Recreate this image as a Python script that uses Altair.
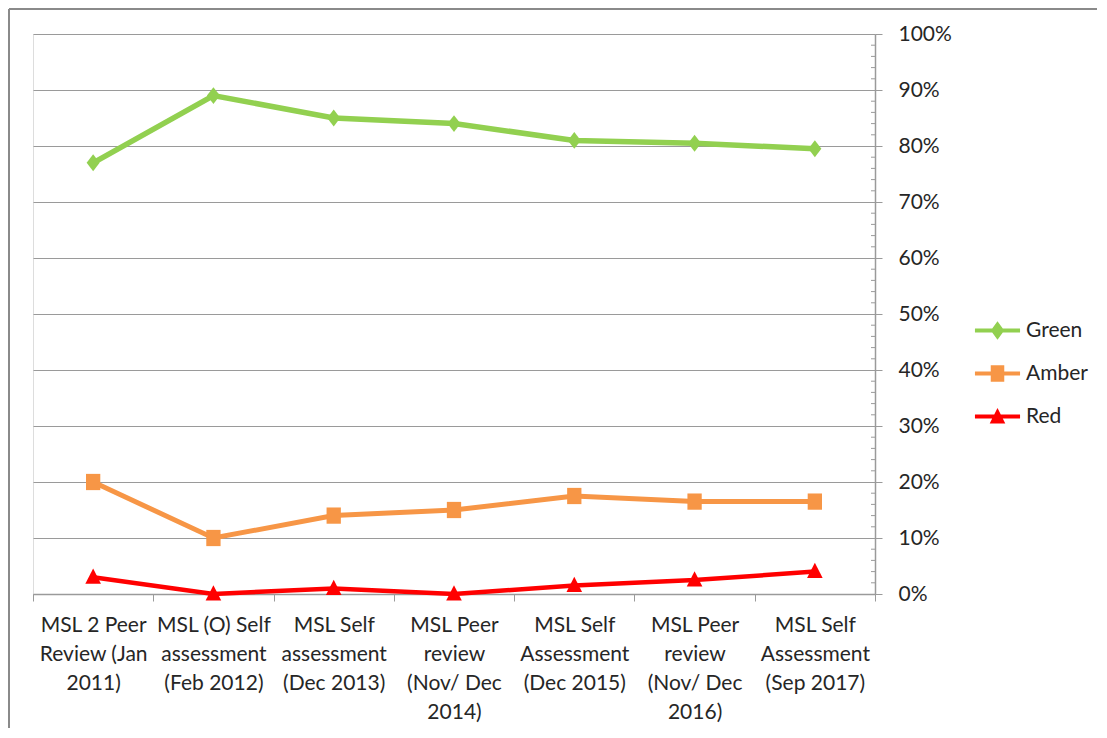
import altair as alt
import pandas as pd

categories = [
    "MSL 2 Peer\nReview (Jan\n2011)",
    "MSL (O) Self\nassessment\n(Feb 2012)",
    "MSL Self\nassessment\n(Dec 2013)",
    "MSL Peer\nreview\n(Nov/ Dec\n2014)",
    "MSL Self\nAssessment\n(Dec 2015)",
    "MSL Peer\nreview\n(Nov/ Dec\n2016)",
    "MSL Self\nAssessment\n(Sep 2017)",
]
series_names = ["Green", "Amber", "Red"]
green = [77, 89, 85, 84, 81, 80.5, 79.5]
amber = [20, 10, 14, 15, 17.5, 16.5, 16.5]
red = [3, 0, 1, 0, 1.5, 2.5, 4]
y_ticks = [0, 0.1, 0.2, 0.3, 0.4, 0.5, 0.6, 0.7, 0.8, 0.9, 1.0]
minor_ticks = [i / 50 for i in range(51) if i % 5 != 0]

colors = ["#92D050", "#F79646", "#FF0000"]
widths = [5.5, 4.5, 5]
marker_paths = [
    "M0,-1.3L1,0L0,1.3L-1,0Z",
    "M-1.1,-1.25H1.1V1.25H-1.1Z",
    "M0,-1.35L1.2,1H-1.2Z",
]
legend_paths = [
    "M-1.1,-0.1H1.1V0.1H-1.1Z M0,-0.45L0.33,0L0,0.45L-0.33,0Z",
    "M-1.1,-0.1H1.1V0.1H-1.1Z M-0.33,-0.4H0.33V0.4H-0.33Z",
    "M-1.1,-0.1H1.1V0.1H-1.1Z M0,-0.42L0.38,0.34H-0.38Z",
]

rows = []
for name, vals in zip(series_names, [green, amber, red]):
    for c, v in zip(categories, vals):
        rows.append({"category": c, "series": name, "value": v / 100})
df = pd.DataFrame(rows)
minor_df = pd.DataFrame({"v": minor_ticks})

W, H = 842, 560
FONT = "Lato"
FS = 21
TXT = "#262626"
GRID = "#9a9a9a"

x_enc = alt.X(
    "category:N",
    sort=categories,
    scale=alt.Scale(type="band", domain=categories, paddingInner=0, paddingOuter=0),
    axis=alt.Axis(
        title=None,
        labelAngle=0,
        labelExpr="split(datum.label, '\\n')",
        labelFont=FONT,
        labelFontSize=FS,
        labelColor=TXT,
        labelLineHeight=29,
        labelBaseline="top",
        labelPadding=13,
        tickBand="extent",
        tickSize=7,
        tickColor=GRID,
        domainColor=GRID,
        domainWidth=1.5,
        grid=False,
        labelOverlap=False,
    ),
)
y_scale = alt.Scale(domain=[0, 1], nice=False)
y_enc = alt.Y(
    "value:Q",
    scale=y_scale,
    axis=alt.Axis(
        orient="right",
        title=None,
        values=y_ticks,
        format=".0%",
        labelFont=FONT,
        labelFontSize=FS,
        labelColor=TXT,
        labelPadding=16,
        tickSize=7,
        tickColor=GRID,
        domainColor=GRID,
        domainWidth=1.5,
        grid=True,
        gridColor=GRID,
        gridWidth=1.2,
    ),
)
color_scale = alt.Scale(domain=series_names, range=colors)

lines = alt.Chart(df).mark_line().encode(
    x=x_enc,
    y=y_enc,
    color=alt.Color("series:N", scale=color_scale, legend=None),
    strokeWidth=alt.StrokeWidth(
        "series:N", scale=alt.Scale(domain=series_names, range=widths), legend=None
    ),
)
points = alt.Chart(df).mark_point(filled=True, opacity=1, size=169).encode(
    x=alt.X("category:N", sort=categories),
    y=alt.Y("value:Q", scale=y_scale),
    color=alt.Color("series:N", scale=color_scale, legend=None),
    shape=alt.Shape(
        "series:N", scale=alt.Scale(domain=series_names, range=marker_paths), legend=None
    ),
)

legend_layers = []
for i, name in enumerate(series_names):
    legend_layers.append(
        alt.Chart(df)
        .transform_filter("false")
        .mark_point(filled=True, color=colors[i], opacity=1)
        .encode(
            shape=alt.Shape(
                "series:N",
                scale=alt.Scale(domain=[name], range=[legend_paths[i]]),
                legend=alt.Legend(
                    title=None,
                    orient="none",
                    legendX=944,
                    legendY=276 + 43 * i,
                    padding=0,
                    symbolSize=1681,
                    symbolFillColor=colors[i],
                    symbolStrokeWidth=0,
                    symbolOpacity=1,
                    labelOffset=8,
                    labelFont=FONT,
                    labelFontSize=FS,
                    labelColor=TXT,
                ),
            )
        )
    )

minor = alt.Chart(minor_df).mark_rule(color=GRID, strokeWidth=1).encode(
    y=alt.Y("v:Q", scale=y_scale, title=None),
    x=alt.value(W - 4),
    x2=alt.value(W),
)
frame_left = alt.Chart(minor_df.head(1)).mark_rule(color="#8a8a8a", strokeWidth=2).encode(
    x=alt.value(-24), y=alt.value(-25), y2=alt.value(H + 200)
)
frame_top = alt.Chart(minor_df.head(1)).mark_rule(color="#8a8a8a", strokeWidth=2).encode(
    x=alt.value(-24), x2=alt.value(W + 300), y=alt.value(-25)
)

chart = (
    alt.layer(lines, minor, points, frame_left, frame_top, *legend_layers)
    .resolve_scale(shape="independent")
    .resolve_legend(shape="independent")
    .properties(
        width=W,
        height=H,
        autosize=alt.AutoSizeParams(type="none"),
        padding={"left": 25, "top": 26, "right": 222, "bottom": 134},
    )
    .configure_view(stroke=None)
    .configure(background="white")
)

chart.save("out.html", embed_options={"renderer": "svg", "actions": False})
